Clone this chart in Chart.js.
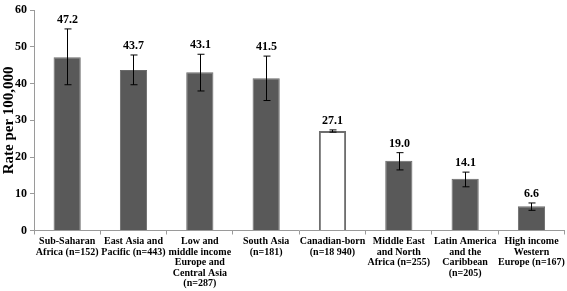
<!DOCTYPE html>
<html>
<head>
<meta charset="utf-8">
<script src="https://cdn.jsdelivr.net/npm/chart.js@4"></script>
<style>
  body { margin: 0; background: #fff; }
  #wrap { width: 567px; height: 291px; }
</style>
</head>
<body>
<div id="wrap"><canvas id="myChart" width="567" height="291"></canvas></div>
<script>
// categories (x labels, split by line)
const regiones = [
  ['Sub-Saharan', 'Africa (n=152)'],
  ['East Asia and', 'Pacific (n=443)'],
  ['Low and', 'middle income', 'Europe and', 'Central Asia', '(n=287)'],
  ['South Asia', '(n=181)'],
  ['Canadian-born', '(n=18 940)'],
  ['Middle East', 'and North', 'Africa (n=255)'],
  ['Latin America', 'and the', 'Caribbean', '(n=205)'],
  ['High income', 'Western', 'Europe (n=167)']
];
const tasas = [47.2, 43.7, 43.1, 41.5, 27.1, 19.0, 14.1, 6.6];
const errorBajo = [39.7, 39.7, 38.0, 35.4, 26.8, 16.5, 11.9, 5.5];
const errorAlto = [54.9, 47.8, 48.0, 47.5, 27.4, 21.2, 15.9, 7.5];
const yTicks = [0, 10, 20, 30, 40, 50, 60];

const fuente = "'Liberation Serif', 'Times New Roman', serif";

const colores = tasas.map((v, i) => i === 4 ? '#ffffff' : '#595959');
const bordes = tasas.map((v, i) => i === 4 ? '#6e6e6e' : '#6a6a6a');
const anchoBorde = tasas.map((v, i) => i === 4 ? 2 : 1);

// error bars + value labels on top
const extras = {
  id: 'extras',
  afterDatasetsDraw(chart) {
    const ctx = chart.ctx;
    const x = chart.scales.x;
    const y = chart.scales.y;
    ctx.save();
    ctx.strokeStyle = '#000';
    ctx.lineWidth = 1;
    tasas.forEach((v, i) => {
      const cx = Math.round(x.getPixelForValue(i)) + 0.5;
      const top = y.getPixelForValue(errorAlto[i]);
      const bot = y.getPixelForValue(errorBajo[i]);
      ctx.beginPath();
      ctx.moveTo(cx, top); ctx.lineTo(cx, bot);
      ctx.moveTo(cx - 3, top); ctx.lineTo(cx + 4, top);
      ctx.moveTo(cx - 3, bot); ctx.lineTo(cx + 4, bot);
      ctx.stroke();
      ctx.fillStyle = '#000';
      ctx.font = "bold 12px " + fuente;
      ctx.textAlign = 'center';
      ctx.textBaseline = 'bottom';
      ctx.fillText(v.toFixed(1), cx, top - 3);
    });
    ctx.restore();
  }
};

const ctx = document.getElementById('myChart').getContext('2d');
const myChart = new Chart(ctx, {
  type: 'bar',
  data: {
    labels: regiones,
    datasets: [{
      data: tasas,
      backgroundColor: colores,
      borderColor: bordes,
      borderWidth: anchoBorde,
      barPercentage: 0.41,
      categoryPercentage: 1.0
    }]
  },
  options: {
    responsive: false,
    animation: false,
    layout: { padding: { top: 0, right: 1, left: 0, bottom: 0 } },
    plugins: {
      legend: { display: false },
      tooltip: { enabled: false }
    },
    scales: {
      x: {
        offset: true,
        grid: {
          display: true,
          drawOnChartArea: false,
          offset: true,
          tickLength: 4,
          color: '#9a9a9a'
        },
        border: { color: '#9a9a9a' },
        ticks: {
          color: '#000',
          maxRotation: 0,
          autoSkip: false,
          padding: 2,
          font: { family: fuente, size: 10, weight: 'bold', lineHeight: 1.05 }
        }
      },
      y: {
        min: 0,
        max: 60,
        afterFit(scale) { scale.width = 34; },
        afterBuildTicks(scale) { scale.ticks = yTicks.map(v => ({ value: v })); },
        grid: {
          display: true,
          drawOnChartArea: false,
          tickLength: 4,
          color: '#9a9a9a'
        },
        border: { color: '#9a9a9a' },
        ticks: {
          color: '#000',
          padding: 3,
          font: { family: fuente, size: 12, weight: 'bold' }
        },
        title: {
          display: true,
          text: 'Rate per 100,000',
          color: '#000',
          padding: 0,
          font: { family: fuente, size: 15, weight: 'bold' }
        }
      }
    }
  },
  plugins: [extras]
});
</script>
</body>
</html>
